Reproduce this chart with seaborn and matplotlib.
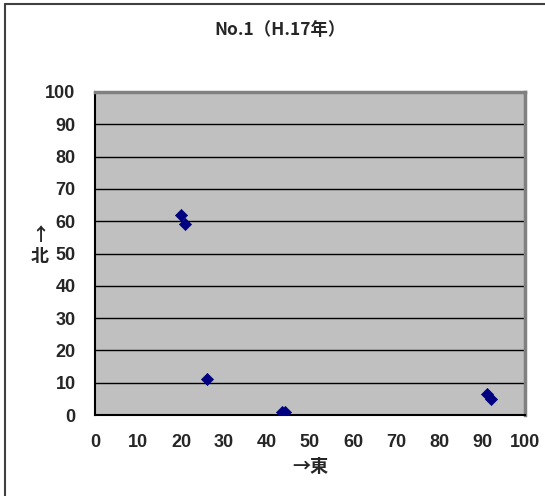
import matplotlib
matplotlib.use("Agg")
import matplotlib.pyplot as plt
import seaborn as sns
import pandas as pd
from matplotlib.lines import Line2D

# Survey points (east, north)
east = [20, 21, 26, 43.5, 44.3, 91.2, 92.1]
north = [62, 59, 11, 1, 1, 6.5, 5]
ticks = list(range(0, 101, 10))
title = "No.1（H.17年）"

sns.set_theme(style="white")
plt.rcParams["font.family"] = ["Noto Sans CJK JP", "DejaVu Sans"]

df = pd.DataFrame({"east": east, "north": north})

fig = plt.figure(figsize=(5.45, 4.96), dpi=100)
ax = fig.add_axes([95 / 545, 1 - 415 / 496, 430 / 545, 323 / 496])
ax.set_facecolor("#C0C0C0")

sns.scatterplot(data=df, x="east", y="north", marker="D", s=38,
                color="#000080", edgecolor="#000080", linewidth=0.5,
                ax=ax, zorder=3, legend=False)

ax.set_xlim(0, 100)
ax.set_ylim(0, 100)
ax.set_xticks(ticks)
ax.set_yticks(ticks)
ax.set_xticklabels([str(t) for t in ticks])
ax.set_yticklabels([str(t) for t in ticks])

for t in ticks[1:-1]:
    ax.axhline(t, color="black", linewidth=1.0, zorder=1)

ax.tick_params(axis="x", direction="in", length=5, width=1, color="black",
               pad=14, labelsize=13)
ax.tick_params(axis="y", direction="in", length=0, pad=14, labelsize=13)
for lab in ax.get_xticklabels() + ax.get_yticklabels():
    lab.set_fontweight("bold")
    lab.set_family(["Liberation Sans", "DejaVu Sans"])

for side in ["left", "bottom"]:
    ax.spines[side].set_color("black")
    ax.spines[side].set_linewidth(1.5)
for side in ["top", "right"]:
    ax.spines[side].set_color("#808080")
    ax.spines[side].set_linewidth(2.5)

ax.set_xlabel("→東", fontsize=13, fontweight="bold", labelpad=4)
ax.set_ylabel("")
fig.text(40 / 545, 1 - 246 / 496, "↑\n北", ha="center", va="center",
         fontsize=13, fontweight="bold", linespacing=1.15)

fig.text(280 / 545, 1 - 30 / 496, title, ha="center", va="center",
         fontsize=12.5, fontweight="bold")

# Outer chart frame
fig.add_artist(Line2D([5 / 545, 5 / 545], [0, 1 - 4 / 496],
                      transform=fig.transFigure, color="#404040", linewidth=1.5))
fig.add_artist(Line2D([5 / 545, 1], [1 - 4 / 496, 1 - 4 / 496],
                      transform=fig.transFigure, color="#404040", linewidth=1.5))

fig.savefig("out.png", dpi=100, facecolor="white")
